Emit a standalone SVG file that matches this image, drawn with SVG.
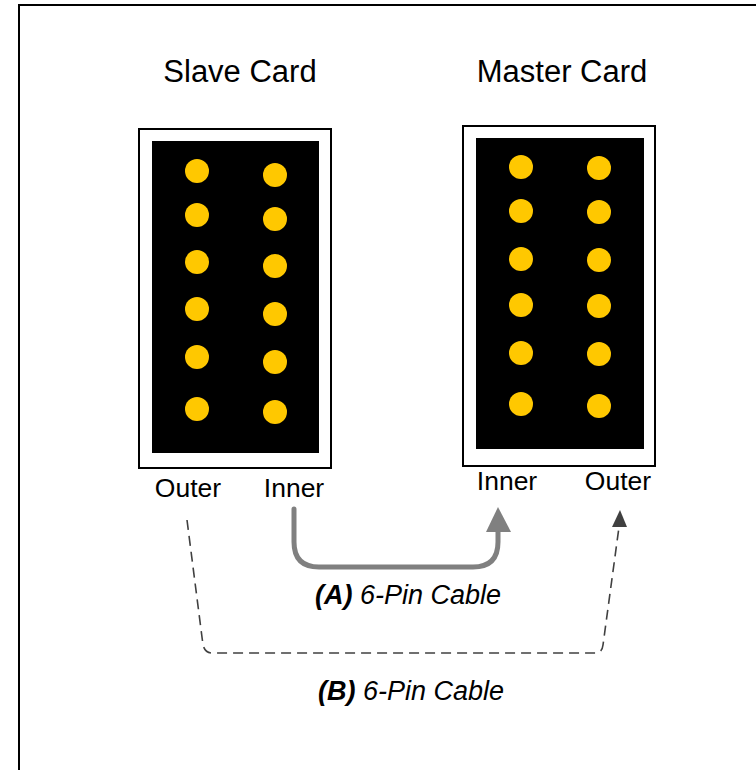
<svg xmlns="http://www.w3.org/2000/svg" width="756" height="770" viewBox="0 0 756 770">
<defs>
<style>
.t{font-family:"Liberation Sans",Arial,sans-serif;fill:#000}
.title{font-size:31px}
.lbl{font-size:26.5px}
.cap{font-size:27px;font-style:italic}
.card{fill:#fff;stroke:#000;stroke-width:2}
.pcb{fill:#000}
.pin{fill:#FFC800}
</style>
</defs>
<rect width="756" height="770" fill="#fff"/>
<path d="M19,770 V5 H756" fill="none" stroke="#000" stroke-width="2"/>

<g id="slave-card">
<text class="t title" x="240" y="82" text-anchor="middle">Slave Card</text>
<rect class="card" x="139" y="129" width="192" height="339"/>
<rect class="pcb" x="152" y="141" width="167" height="312"/>
<circle class="pin" cx="197" cy="171" r="12"/>
<circle class="pin" cx="197" cy="215" r="12"/>
<circle class="pin" cx="197" cy="262" r="12"/>
<circle class="pin" cx="197" cy="309" r="12"/>
<circle class="pin" cx="197" cy="357" r="12"/>
<circle class="pin" cx="197" cy="409" r="12"/>
<circle class="pin" cx="275" cy="175" r="12"/>
<circle class="pin" cx="275" cy="219" r="12"/>
<circle class="pin" cx="275" cy="266" r="12"/>
<circle class="pin" cx="275" cy="314" r="12"/>
<circle class="pin" cx="275" cy="362" r="12"/>
<circle class="pin" cx="275" cy="412" r="12"/>
<text class="t lbl" x="188" y="497" text-anchor="middle">Outer</text>
<text class="t lbl" x="294" y="497" text-anchor="middle">Inner</text>
</g>

<g id="master-card">
<text class="t title" x="562" y="82" text-anchor="middle">Master Card</text>
<rect class="card" x="463" y="126" width="192" height="340"/>
<rect class="pcb" x="476" y="138" width="168" height="311"/>
<circle class="pin" cx="521" cy="167" r="12"/>
<circle class="pin" cx="521" cy="211" r="12"/>
<circle class="pin" cx="521" cy="259" r="12"/>
<circle class="pin" cx="521" cy="305" r="12"/>
<circle class="pin" cx="521" cy="353" r="12"/>
<circle class="pin" cx="521" cy="404" r="12"/>
<circle class="pin" cx="599" cy="168" r="12"/>
<circle class="pin" cx="599" cy="212" r="12"/>
<circle class="pin" cx="599" cy="260" r="12"/>
<circle class="pin" cx="599" cy="306" r="12"/>
<circle class="pin" cx="599" cy="354" r="12"/>
<circle class="pin" cx="599" cy="406" r="12"/>
<text class="t lbl" x="507" y="490" text-anchor="middle">Inner</text>
<text class="t lbl" x="618" y="490" text-anchor="middle">Outer</text>
</g>

<g id="connectors">
<path d="M294,509 V542 Q294,567 319,567 H473 Q498,567 498,542 V530" fill="none" stroke="#808080" stroke-width="5" stroke-linecap="round"/>
<polygon points="498,507 511,532 486,532" fill="#808080"/>
<path d="M187,520 L203,645 Q205,653 212,653 H596 Q602,653 603,645 L619,527" fill="none" stroke="#404040" stroke-width="1.6" stroke-dasharray="10,6"/>
<polygon points="620,510 627,527 612,527" fill="#404040"/>
</g>

<g id="labels">
<text class="t cap" x="408" y="604" text-anchor="middle"><tspan font-weight="bold">(A)</tspan> 6-Pin Cable</text>
<text class="t cap" x="411" y="700" text-anchor="middle"><tspan font-weight="bold">(B)</tspan> 6-Pin Cable</text>
</g>
</svg>
